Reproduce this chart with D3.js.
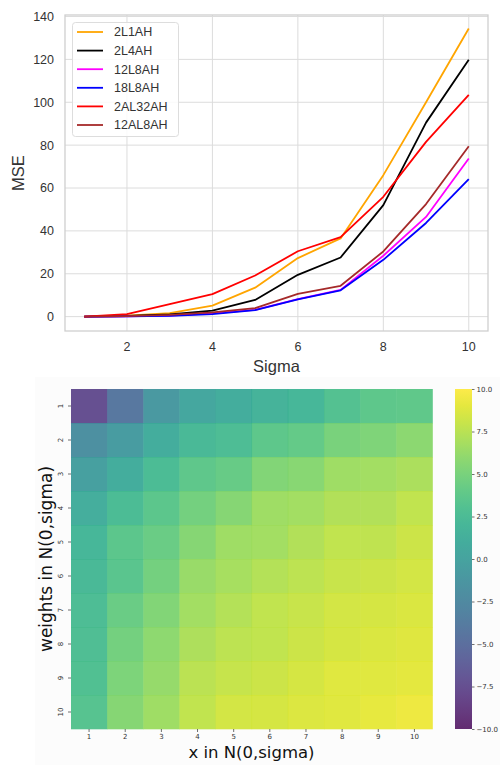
<!DOCTYPE html>
<html><head><meta charset="utf-8">
<script src="https://cdn.jsdelivr.net/npm/d3@7"></script>
<style>body{margin:0;background:#fff}svg{display:block}</style>
</head><body>
<script>
// ---------- data ----------
const sigmas = [1,2,3,4,5,6,7,8,9,10];
const seriesNames = ["2L1AH","2L4AH","12L8AH","18L8AH","2AL32AH","12AL8AH"];
const seriesColors = ["#ffa500","#000000","#ff00ff","#0000ff","#ff0000","#a52a2a"];
const mse_2L1AH   = [0,0.5,1.6,5.1,13.5,27.3,36.5,66,100,134.4];
const mse_2L4AH   = [0,0.3,1.0,2.8,7.8,19.5,27.6,52,90.5,119.8];
const mse_12L8AH  = [0,0.1,0.5,1.5,3.2,8.2,12.5,28.4,46.5,73.8];
const mse_18L8AH  = [0,0.1,0.4,1.2,3.0,8.0,12.3,26.5,43.7,64.2];
const mse_2AL32AH = [0,1.2,5.8,10.5,19.2,30.5,37.1,55.9,81.5,103.4];
const mse_12AL8AH = [0,0.2,0.8,2.0,4.0,10.6,14.4,30.4,52.5,79.5];
const yTicksTop = [0,20,40,60,80,100,120,140];
const xTicksTop = [2,4,6,8,10];

const heatX = [1,2,3,4,5,6,7,8,9,10];
const heatY = [1,2,3,4,5,6,7,8,9,10];
const heatValues = [
  [-7.5,-4.2,-1.0,0.4,1.0,1.6,2.0,3.1,3.7,3.9],
  [-1.8,-0.7,1.0,2.2,2.7,3.7,4.0,5.0,5.3,5.8],
  [-0.3,1.0,2.5,3.8,4.2,5.4,5.7,6.5,6.7,7.0],
  [1.1,2.5,3.6,4.8,5.6,6.5,6.7,7.2,7.2,7.8],
  [2.0,3.6,4.3,5.6,6.5,6.7,7.2,7.8,7.7,8.2],
  [2.2,3.5,4.8,6.3,6.8,7.3,7.6,8.0,8.2,8.4],
  [2.7,4.3,5.4,6.7,7.3,7.8,8.0,8.4,8.5,8.6],
  [2.8,4.8,5.9,7.1,7.6,7.8,8.2,8.5,8.6,8.8],
  [2.9,5.2,6.2,7.5,7.9,8.2,8.5,8.9,8.9,9.0],
  [3.3,5.6,6.5,7.8,8.4,8.5,8.7,8.9,9.1,9.3]
];
const cbarTicks = [10,7.5,5,2.5,0,-2.5,-5,-7.5,-10];

// ---------- svg ----------
const svg = d3.select("body").append("svg").attr("width",500).attr("height",765);

// ===== top line chart =====
const topFont = "'Liberation Sans', Arial, sans-serif";
const x = d3.scaleLinear().domain([0.55,10.45]).range([65,488]);
const y = d3.scaleLinear().domain([-6.7,140.7]).range([331,15]);
const gTop = svg.append("g");

gTop.selectAll("line.gx").data(xTicksTop).join("line")
  .attr("x1",d=>x(d)).attr("x2",d=>x(d)).attr("y1",15).attr("y2",331)
  .attr("stroke","#dcdcdc").attr("stroke-width",1);
gTop.selectAll("line.gy").data(yTicksTop).join("line")
  .attr("y1",d=>y(d)).attr("y2",d=>y(d)).attr("x1",65).attr("x2",488)
  .attr("stroke","#dcdcdc").attr("stroke-width",1);
gTop.append("rect").attr("x",65).attr("y",15).attr("width",423).attr("height",316)
  .attr("fill","none").attr("stroke","#cfcfcf").attr("stroke-width",1.3);

gTop.selectAll("text.yt").data(yTicksTop).join("text")
  .attr("x",54).attr("y",d=>y(d)).attr("dy","0.35em").attr("text-anchor","end")
  .attr("font-family",topFont).attr("font-size",12.5).attr("fill","#333")
  .text(d=>d);
gTop.selectAll("text.xt").data(xTicksTop).join("text")
  .attr("x",d=>x(d)).attr("y",347).attr("dy","0.35em").attr("text-anchor","middle")
  .attr("font-family",topFont).attr("font-size",12.5).attr("fill","#333")
  .text(d=>d);
gTop.append("text").attr("transform","translate(24,173) rotate(-90)")
  .attr("text-anchor","middle").attr("font-family",topFont).attr("font-size",16.5)
  .attr("fill","#333").text("MSE");
gTop.append("text").attr("x",276.5).attr("y",372)
  .attr("text-anchor","middle").attr("font-family",topFont).attr("font-size",16.5)
  .attr("fill","#333").text("Sigma");

const allSeries = [mse_2L1AH,mse_2L4AH,mse_12L8AH,mse_18L8AH,mse_2AL32AH,mse_12AL8AH];
const line = d3.line().x((d,i)=>x(sigmas[i])).y(d=>y(d));
allSeries.forEach((s,k)=>{
  gTop.append("path").datum(s).attr("d",line).attr("fill","none")
    .attr("stroke",seriesColors[k]).attr("stroke-width",1.8).attr("stroke-linejoin","round");
});

// legend
const lg = gTop.append("g");
lg.append("rect").attr("x",72.5).attr("y",22.5).attr("width",106).attr("height",114).attr("rx",3)
  .attr("fill","#fff").attr("fill-opacity",0.85).attr("stroke","#dddddd");
seriesNames.forEach((n,k)=>{
  const yy = 32 + k*18.6;
  lg.append("line").attr("x1",77).attr("x2",103).attr("y1",yy).attr("y2",yy)
    .attr("stroke",seriesColors[k]).attr("stroke-width",1.8);
  lg.append("text").attr("x",114).attr("y",yy).attr("dy","0.35em")
    .attr("font-family",topFont).attr("font-size",12.5).attr("fill","#333").text(n);
});

// ===== bottom heatmap =====
const hFont = "'DejaVu Sans', sans-serif";
svg.append("rect").attr("x",35).attr("y",377).attr("width",465).attr("height",388).attr("fill","#fcfcfc");
const hx = d3.scaleBand().domain(heatX).range([71,432.5]);
const hy = d3.scaleBand().domain(heatY).range([389,729]);
const color = d3.scaleSequential(d3.interpolateViridis).domain([-10,10]);
const alpha = 0.83;

const cells = [];
heatValues.forEach((row,i)=>row.forEach((v,j)=>cells.push({r:heatY[i],c:heatX[j],v})));
svg.append("g").selectAll("rect").data(cells).join("rect")
  .attr("x",d=>hx(d.c)).attr("y",d=>hy(d.r))
  .attr("width",hx.bandwidth()+0.3).attr("height",hy.bandwidth()+0.3)
  .attr("fill",d=>color(d.v)).attr("fill-opacity",alpha);

// heatmap axes
const gx = svg.append("g").attr("transform","translate(0,729)")
  .call(d3.axisBottom(hx).tickSize(3).tickPadding(2));
gx.select(".domain").remove();
gx.selectAll("line").attr("stroke","#333").attr("stroke-width",0.7);
gx.selectAll("text").attr("font-family",hFont).attr("font-size",7).attr("fill","#333");

const gy = svg.append("g").attr("transform","translate(71,0)")
  .call(d3.axisLeft(hy).tickSize(3).tickPadding(3));
gy.select(".domain").remove();
gy.selectAll("line").attr("stroke","#333").attr("stroke-width",0.7);
gy.selectAll("text").attr("font-family",hFont).attr("font-size",7).attr("fill","#333")
  .attr("text-anchor","middle").attr("dy",null)
  .attr("transform",d=>`translate(-10,0) rotate(-90)`).attr("x",0).attr("y",0).attr("dominant-baseline","middle");

svg.append("text").attr("transform","translate(52,559) rotate(-90)")
  .attr("text-anchor","middle").attr("font-family",hFont).attr("font-size",17)
  .attr("fill","#111").text("weights in N(0,sigma)");
svg.append("text").attr("x",251.5).attr("y",758)
  .attr("text-anchor","middle").attr("font-family",hFont).attr("font-size",16.5)
  .attr("fill","#111").text("x in N(0,sigma)");

// colorbar
const cy = d3.scaleLinear().domain([-10,10]).range([729,389]);
const defs = svg.append("defs");
const grad = defs.append("linearGradient").attr("id","cbar").attr("x1",0).attr("y1",1).attr("x2",0).attr("y2",0);
d3.range(0,1.0001,0.05).forEach(t=>{
  grad.append("stop").attr("offset",t).attr("stop-color",color(-10+20*t)).attr("stop-opacity",alpha);
});
svg.append("rect").attr("x",455).attr("y",cy(10)).attr("width",17).attr("height",cy(-10)-cy(10))
  .attr("fill","url(#cbar)");
const gc = svg.append("g").attr("transform","translate(472,0)")
  .call(d3.axisRight(cy).tickValues(cbarTicks).tickSize(2.5).tickPadding(2)
    .tickFormat(d=>d3.format(".1f")(d).replace("-","\u2212")));
gc.select(".domain").remove();
gc.selectAll("line").attr("stroke","#333").attr("stroke-width",0.7);
gc.selectAll("text").attr("font-family",hFont).attr("font-size",7).attr("fill","#333");
</script>
</body></html>
